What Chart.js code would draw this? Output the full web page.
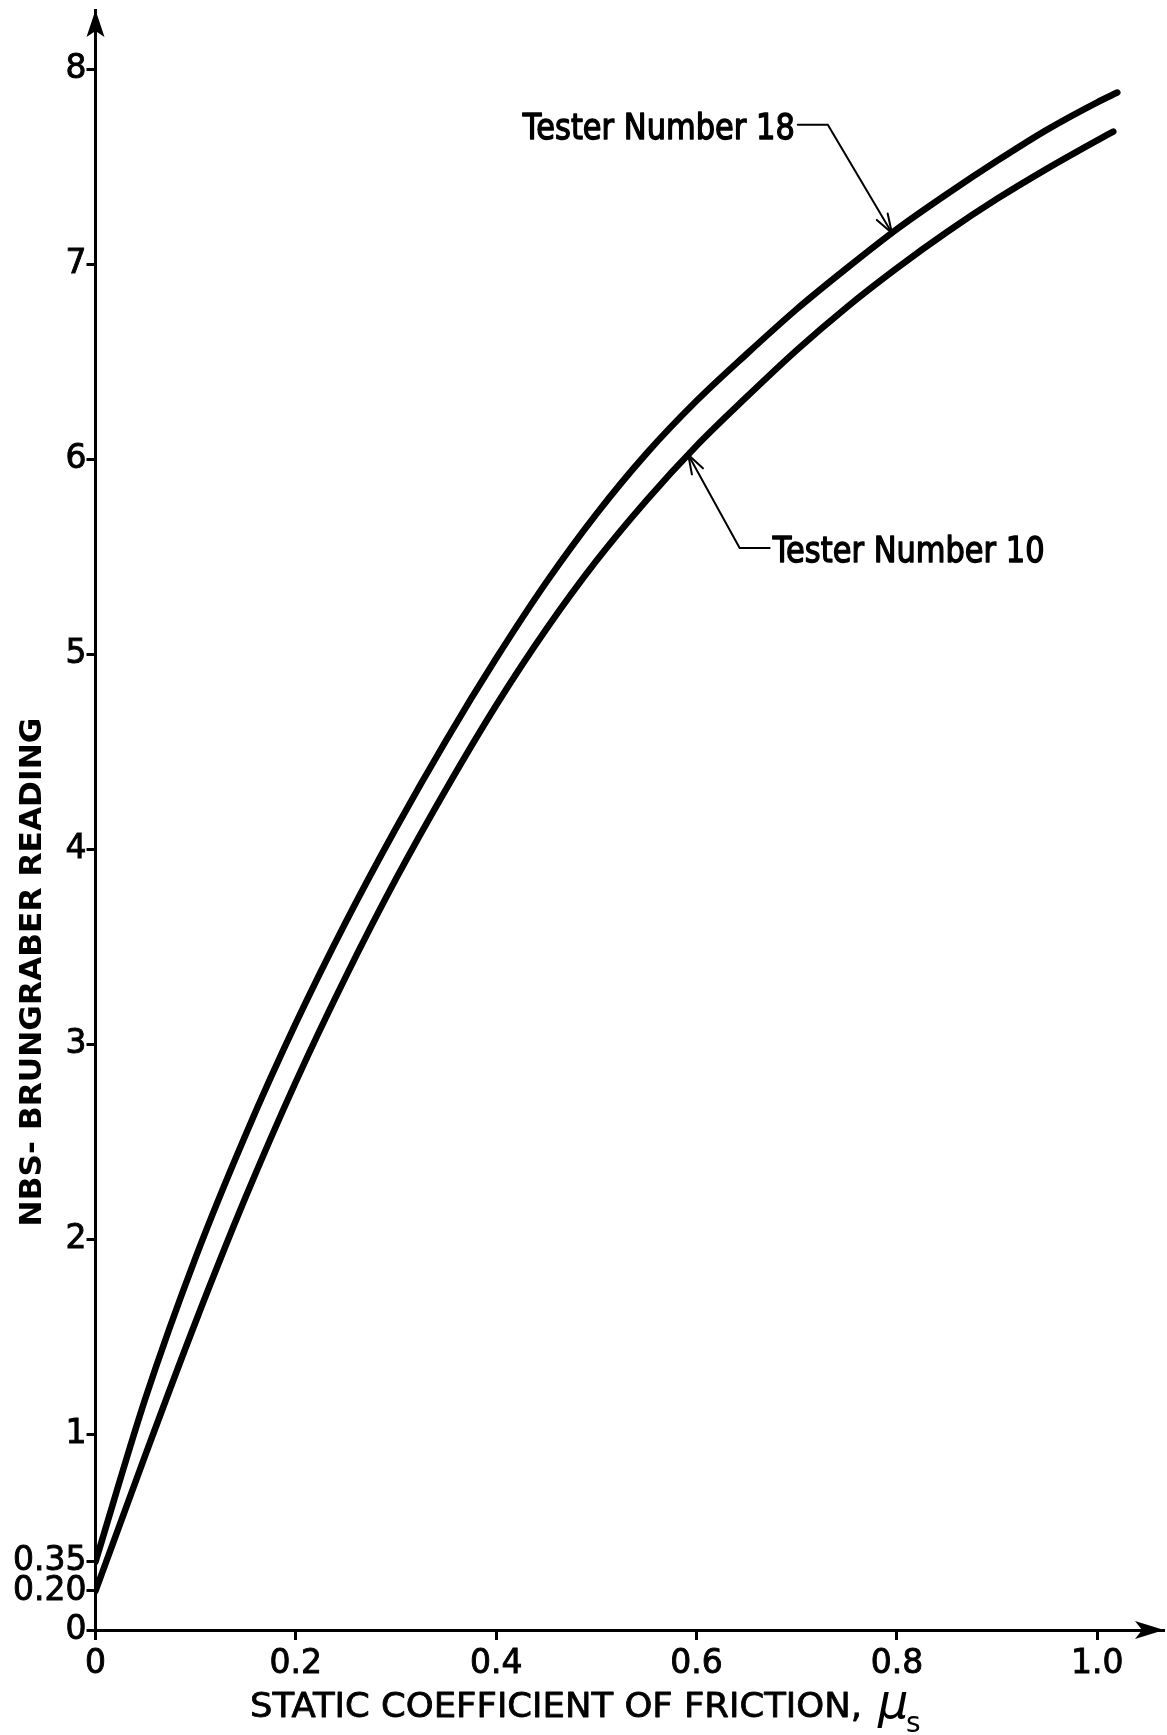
<!DOCTYPE html>
<html>
<head>
<meta charset="utf-8">
<title>NBS-Brungraber reading vs static coefficient of friction</title>
<script src="https://cdn.jsdelivr.net/npm/chart.js@4/dist/chart.umd.min.js"></script>
<style>
  html, body { margin: 0; padding: 0; background: #fff; }
  #wrap { width: 1167px; height: 1735px; position: relative; }
  canvas { display: block; }
</style>
</head>
<body>
<div id="wrap"><canvas id="chart" width="1167" height="1735"></canvas></div>
<script>
// Static coefficient of friction (x) and tester reading (y) for each tester
const mu18 = [0, 0.05, 0.10, 0.15, 0.20, 0.25, 0.30, 0.35, 0.40, 0.45, 0.50, 0.55,
              0.60, 0.65, 0.70, 0.75, 0.80, 0.85, 0.90, 0.95, 1.00, 1.02];
const reading18 = [0.35, 1.19, 1.91, 2.54, 3.11, 3.63, 4.11, 4.56, 4.98, 5.37, 5.72, 6.03,
                   6.30, 6.54, 6.77, 6.98, 7.18, 7.36, 7.53, 7.69, 7.83, 7.88];

const mu10 = [0, 0.05, 0.10, 0.15, 0.20, 0.25, 0.30, 0.35, 0.40, 0.45, 0.50, 0.55,
              0.60, 0.65, 0.70, 0.75, 0.80, 0.85, 0.90, 0.95, 1.00, 1.016];
const reading10 = [0.20, 0.90, 1.58, 2.22, 2.81, 3.35, 3.85, 4.31, 4.74, 5.13, 5.48, 5.79,
                   6.07, 6.32, 6.56, 6.78, 6.98, 7.165, 7.335, 7.49, 7.635, 7.68];

// Axis ticks and their labels
const xTickValues = [0, 0.2, 0.4, 0.6, 0.8, 1.0];
const xTickLabels = ['0', '0.2', '0.4', '0.6', '0.8', '1.0'];
const yTickValues = [0, 0.20, 0.35, 1, 2, 3, 4, 5, 6, 7, 8];
const yTickLabels = ['0', '0.20', '0.35', '1', '2', '3', '4', '5', '6', '7', '8'];

const seriesNames = ['Tester Number 18', 'Tester Number 10'];

// Callout arrows: where each arrow touches its curve and where the leader bends
const calloutTipMu = [0.795, 0.5917];
const calloutElbow = [[0.731, 7.715], [0.643, 5.546]];

const INK = '#000';
const tickFont = { family: '"DejaVu Sans", sans-serif', size: 33 };

function interp(xs, ys, x) {
  for (let i = 1; i < xs.length; i++) {
    if (x <= xs[i]) {
      const t = (x - xs[i - 1]) / (xs[i] - xs[i - 1]);
      return ys[i - 1] + t * (ys[i] - ys[i - 1]);
    }
  }
  return ys[ys.length - 1];
}

function toPoints(xs, ys) { return xs.map((x, i) => ({ x, y: ys[i] })); }

// Draws text squeezed or stretched horizontally to a given width,
// with an optional outline to give the strokes a heavier, pen-drawn weight
function fitText(ctx, text, x, y, width, align, weight) {
  ctx.save();
  const w = ctx.measureText(text).width;
  ctx.translate(x, y);
  ctx.scale(width / w, 1);
  ctx.textAlign = align;
  ctx.fillText(text, 0, 0);
  if (weight) {
    ctx.lineWidth = weight;
    ctx.lineJoin = 'round';
    ctx.strokeText(text, 0, 0);
  }
  ctx.restore();
}

const decorations = {
  id: 'decorations',
  afterDraw(chart) {
    const { ctx, chartArea: a, scales: { x, y } } = chart;
    ctx.save();
    ctx.fillStyle = INK;
    ctx.strokeStyle = INK;

    // Arrowheads at the ends of both axes
    ctx.beginPath();
    ctx.moveTo(a.left, a.top);
    ctx.lineTo(a.left - 9, a.top + 27);
    ctx.lineTo(a.left, a.top + 21);
    ctx.lineTo(a.left + 9, a.top + 27);
    ctx.closePath();
    ctx.fill();

    ctx.beginPath();
    ctx.moveTo(a.right, a.bottom);
    ctx.lineTo(a.right - 29, a.bottom - 9);
    ctx.lineTo(a.right - 22, a.bottom);
    ctx.lineTo(a.right - 29, a.bottom + 9);
    ctx.closePath();
    ctx.fill();

    // Axis titles
    ctx.textBaseline = 'alphabetic';
    ctx.font = '34px "DejaVu Sans", sans-serif';
    fitText(ctx, 'STATIC COEFFICIENT OF FRICTION,', 250, 1717, 612, 'left', 0.8);
    ctx.font = 'italic 48px "DejaVu Sans", sans-serif';
    ctx.textAlign = 'left';
    ctx.fillText('\u03BC', 878, 1718);
    ctx.font = '28px "DejaVu Sans", sans-serif';
    ctx.fillText('s', 906, 1732);

    ctx.save();
    ctx.translate(33, (a.top + a.bottom) / 2 + 152);
    ctx.rotate(-Math.PI / 2);
    ctx.textBaseline = 'middle';
    ctx.font = 'bold 30px "DejaVu Sans", sans-serif';
    fitText(ctx, 'NBS- BRUNGRABER READING', 0, 0, 509, 'center');
    ctx.restore();

    // Callouts naming each curve
    const curves = [[mu18, reading18], [mu10, reading10]];
    ctx.lineCap = 'round';
    ctx.font = '35px "DejaVu Sans", sans-serif';
    ctx.textBaseline = 'alphabetic';
    calloutTipMu.forEach((m, i) => {
      const tx = x.getPixelForValue(m);
      const ty = y.getPixelForValue(interp(curves[i][0], curves[i][1], m));
      const ex = x.getPixelForValue(calloutElbow[i][0]);
      const ey = y.getPixelForValue(calloutElbow[i][1]);
      const dir = i === 0 ? -1 : 1;   // text to the left of the elbow for 18, right for 10
      const hx = ex + dir * 30;
      ctx.lineWidth = 2;
      ctx.beginPath();
      ctx.moveTo(hx, ey);
      ctx.lineTo(ex, ey);
      ctx.lineTo(tx, ty);
      ctx.stroke();
      // open arrowhead
      const ang = Math.atan2(ty - ey, tx - ex);
      const len = 20, spread = 0.32;
      ctx.beginPath();
      ctx.moveTo(tx - len * Math.cos(ang - spread), ty - len * Math.sin(ang - spread));
      ctx.lineTo(tx, ty);
      ctx.lineTo(tx - len * Math.cos(ang + spread), ty - len * Math.sin(ang + spread));
      ctx.stroke();
      fitText(ctx, seriesNames[i], hx + dir * 3, ey + 14, 272, dir < 0 ? 'right' : 'left', 1.4);
    });
    ctx.restore();
  }
};

const lineStyle = {
  borderColor: INK,
  borderWidth: 6.5,
  pointRadius: 0,
  fill: false,
  cubicInterpolationMode: 'monotone',
  borderCapStyle: 'round',
  borderJoinStyle: 'round'
};

new Chart(document.getElementById('chart'), {
  type: 'line',
  data: {
    datasets: [
      Object.assign({ label: seriesNames[0], data: toPoints(mu18, reading18) }, lineStyle),
      Object.assign({ label: seriesNames[1], data: toPoints(mu10, reading10) }, lineStyle)
    ]
  },
  options: {
    responsive: false,
    animation: false,
    devicePixelRatio: 1,
    layout: { padding: { top: 10, right: 3, left: 0, bottom: 0 } },
    plugins: { legend: { display: false }, tooltip: { enabled: false } },
    scales: {
      x: {
        type: 'linear',
        min: 0,
        max: 1.0666,
        afterBuildTicks: axis => { axis.ticks = xTickValues.map(v => ({ value: v })); },
        afterFit: axis => { axis.height = 105; axis.paddingLeft = 0; axis.paddingRight = 0; },
        ticks: {
          autoSkip: false,
          maxRotation: 0,
          padding: 5,
          color: INK,
          font: tickFont,
          textStrokeColor: INK,
          textStrokeWidth: 0.9,
          callback: (v) => xTickLabels[xTickValues.indexOf(v)]
        },
        grid: { drawOnChartArea: false, drawTicks: true, tickLength: 10, tickWidth: 3, tickColor: INK },
        border: { display: true, color: INK, width: 3 }
      },
      y: {
        type: 'linear',
        min: 0,
        max: 8.303,
        afterBuildTicks: axis => { axis.ticks = yTickValues.map(v => ({ value: v })); },
        afterFit: axis => { axis.width = 95.5; axis.paddingTop = 0; axis.paddingBottom = 0; },
        ticks: {
          autoSkip: false,
          padding: 0,
          color: INK,
          font: tickFont,
          textStrokeColor: INK,
          textStrokeWidth: 0.9,
          callback: (v) => yTickLabels[yTickValues.indexOf(v)]
        },
        grid: { drawOnChartArea: false, drawTicks: true, tickLength: 9, tickWidth: 3, tickColor: INK },
        border: { display: true, color: INK, width: 3 }
      }
    }
  },
  plugins: [decorations]
});
</script>
</body>
</html>
